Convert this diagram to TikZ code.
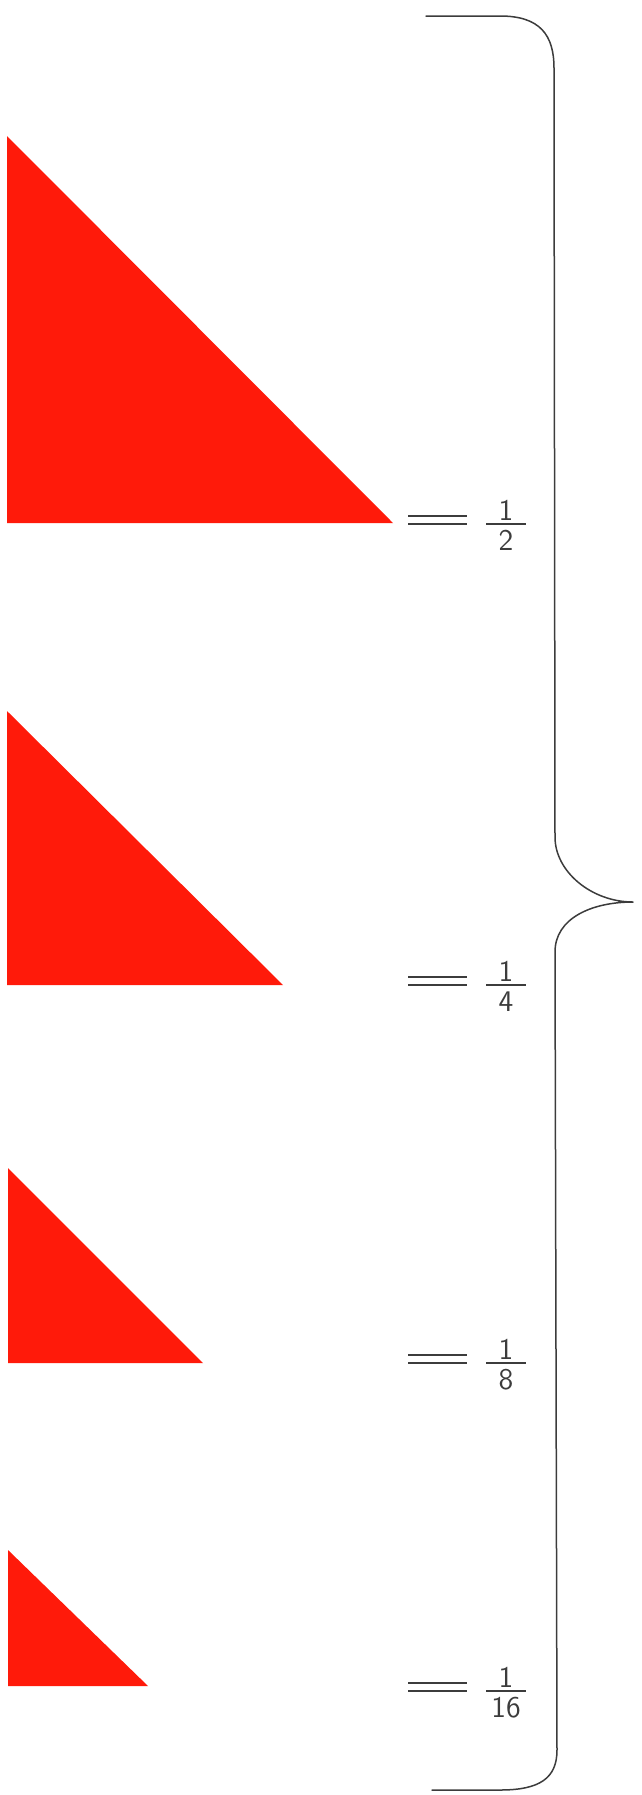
\documentclass[tikz,border=0pt]{standalone}
\definecolor{tri}{RGB}{255,26,10}
\definecolor{ink}{RGB}{60,60,60}
\tikzset{
  redtri/.style={fill=tri,draw=none},
  brace/.style={draw=ink,line width=0.75pt,line cap=round,line join=round},
  eqline/.style={draw=ink,line width=0.8pt},
  num/.style={inner sep=0pt,font=\sffamily\fontsize{15}{16}\selectfont,text=ink},
}
\begin{document}
\begin{tikzpicture}[x=0.5pt,y=-0.5pt]
\useasboundingbox (0,0) rectangle (642,1795);
% triangles
\path[redtri] (7,136) -- (7,523) -- (393,523) -- cycle;
\path[redtri] (7,711) -- (7,985) -- (283,985) -- cycle;
\path[redtri] (8,1168) -- (8,1363) -- (203,1363) -- cycle;
\path[redtri] (8,1550) -- (8,1686) -- (148,1686) -- cycle;
% brace
\coordinate (bt) at (426,16);
\coordinate (bb) at (432,1790);
\coordinate (tip) at (633,902);
\draw[brace] (bt) -- (500,16) .. controls (540,16) and (554,35) .. (554,68)
  -- (555,837) .. controls (555,872) and (592,902) .. (tip)
  .. controls (592,902) and (555,918) .. (555,952)
  -- (557,1750) .. controls (557,1778) and (540,1790) .. (500,1790) -- (bb);
% equals and fractions
\foreach \y/\d [count=\i] in {524/2,985/4,1363/8,1691/16}{
  \coordinate (e\i a) at (408,\y-8);
  \coordinate (e\i b) at (467,\y-8);
  \coordinate (e\i c) at (408,\y);
  \coordinate (e\i d) at (467,\y);
  \draw[eqline] (e\i a) -- (e\i b);
  \draw[eqline] (e\i c) -- (e\i d);
  \coordinate (f\i a) at (486,\y);
  \coordinate (f\i b) at (526,\y);
  \draw[eqline] (f\i a) -- (f\i b);
  \node[num,anchor=south] (n\i) at (506,\y-3) {1};
  \node[num,anchor=north] (d\i) at (506,\y+6) {\d};
}
\end{tikzpicture}
\end{document}
